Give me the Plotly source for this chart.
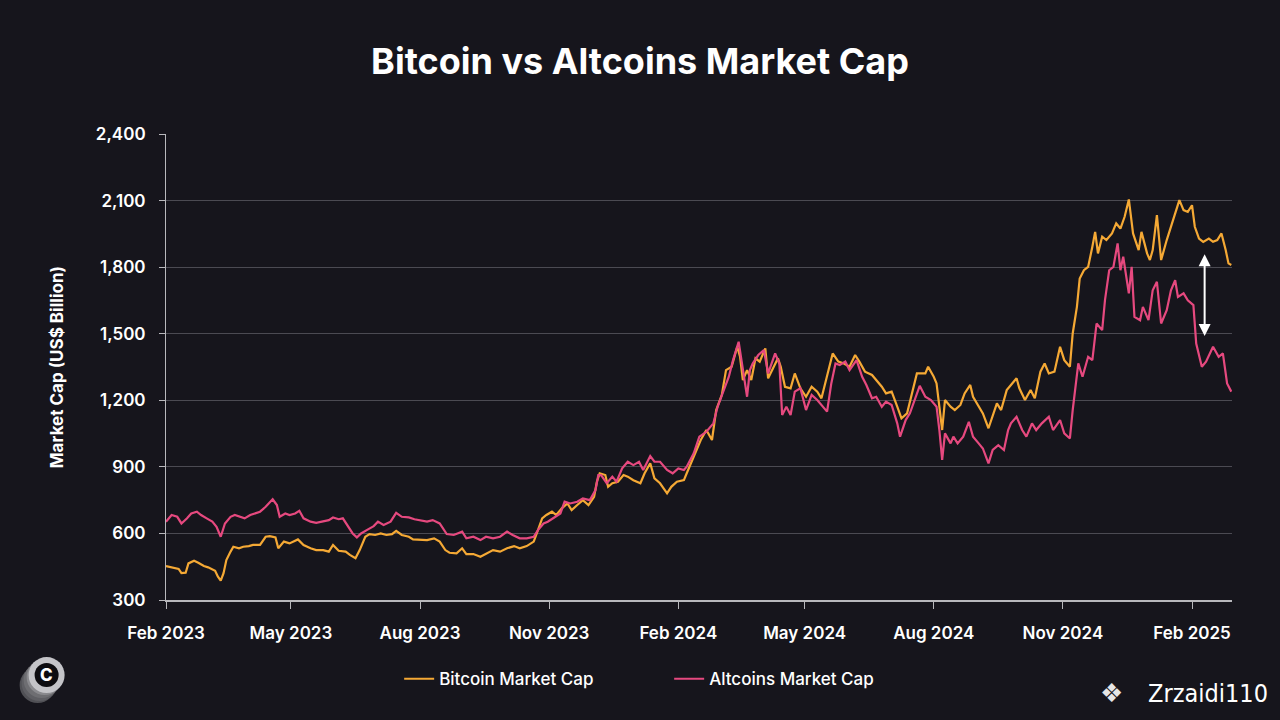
import pandas as pd
import plotly.graph_objs as go

# days counted from 1 Feb 2023, values in US$ billion
btc_day = [0, 5, 9, 11, 14, 16, 20, 23, 27, 30, 33, 35, 37, 39, 41, 43, 46, 48, 52, 55,
           59, 62, 67, 71, 74, 78, 80, 84, 88, 91, 94, 98, 103, 107, 112, 116, 119, 123, 128, 131,
           135, 138, 142, 145, 149, 153, 157, 161, 164, 168, 173, 176,
           186, 191, 195, 199, 202, 207, 211, 214, 219, 224, 229, 233, 238, 243, 248, 252, 257, 262,
           265, 268, 271, 275, 278, 282, 286, 289, 293, 297, 301, 305, 307, 309, 313, 315, 318, 322,
           326, 329, 333, 338, 341, 345, 348, 352, 357, 360, 364, 369,
           371, 376, 381, 385, 389, 392, 396, 399, 403, 407, 409, 411, 414, 417, 420, 423, 427, 429,
           433, 436, 438, 441, 445, 448, 452, 456, 460, 464, 467, 471, 475, 479, 483, 487, 491, 494,
           498, 503, 506, 510, 513, 517, 521, 524, 528, 531, 535,
           541, 543, 547, 549, 551, 553, 555, 559, 562, 566, 569, 573, 575, 579, 582, 586, 588, 592,
           595, 599, 602, 606, 608, 612, 616, 619, 623, 626, 629, 633, 637, 640, 644, 646, 649, 651,
           654, 657, 660, 662, 664, 667, 670, 674, 677, 680, 683, 686, 689, 693, 695, 699, 701, 703,
           706, 709, 713, 717, 719, 722, 725, 728, 731, 733, 736, 739, 743, 746, 749, 752, 755, 757, 759]
btc_cap = [453, 447, 440, 421, 423, 465, 477, 468, 453, 447, 438, 432, 405, 387, 421, 480, 518, 540, 533, 540,
           543, 548, 548, 585, 588, 582, 533, 563, 555, 563, 573, 548, 533, 525, 525, 518, 548, 522, 518, 503,
           488, 525, 585, 597, 593, 600, 593, 597, 612, 593, 585, 573,
           570, 578, 563, 525, 513, 510, 533, 507, 507, 495, 513, 525, 518, 533, 543, 533, 543, 563,
           615, 668, 683, 698, 683, 713, 735, 705, 728, 750, 728, 765, 833, 871, 863, 810, 826, 833,
           863, 856, 840, 826, 871, 916, 848, 826, 781, 810, 833, 840,
           871, 946, 1021, 1066, 1021, 1156, 1224, 1336, 1351, 1441, 1396, 1291, 1336, 1291, 1389, 1374, 1434, 1299,
           1351, 1389, 1351, 1261, 1254, 1321, 1254, 1216, 1261, 1239, 1209, 1306, 1411, 1374, 1366, 1351, 1404, 1374,
           1329, 1314, 1291, 1261, 1231, 1239, 1171, 1119, 1141, 1224, 1321,
           1321, 1351, 1306, 1276, 1171, 1066, 1201, 1171, 1156, 1179, 1231, 1269, 1216, 1171, 1141, 1074, 1111, 1186,
           1156, 1246, 1269, 1299, 1254, 1201, 1246, 1209, 1329, 1366, 1321, 1329, 1441, 1381, 1351, 1501, 1621, 1749,
           1786, 1801, 1892, 1959, 1862, 1937, 1922, 1952, 1997, 1974, 2027, 2105, 1952, 1877, 1959, 1862, 1832, 1877,
           2034, 1832, 1922, 2004, 2041, 2102, 2057, 2049, 2079, 1982, 1929, 1914, 1929, 1914, 1922, 1952, 1877, 1817, 1810]

alt_day = [0, 4, 8, 11, 15, 18, 22, 25, 29, 33, 36, 39, 42, 46, 49, 53, 56, 60, 63, 67,
           71, 74, 76, 79, 81, 85, 88, 92, 95, 98, 103, 107, 112, 116, 119, 123, 126, 130, 133, 136,
           139, 143, 148, 151, 155, 160, 164, 168, 173, 177,
           186, 190, 195, 200, 205, 211, 214, 219, 224, 228, 233, 238, 243, 247, 252, 257, 262, 265,
           269, 272, 276, 281, 284, 288, 293, 297, 302, 306, 308, 310, 314, 318, 321, 325, 329, 333,
           337, 340, 345, 348, 352, 357, 361, 365, 369,
           371, 376, 380, 385, 390, 393, 397, 401, 404, 408, 410, 414, 416, 418, 422, 426, 429, 434,
           437, 439, 442, 445, 448, 452, 456, 460, 464, 467, 471, 474, 477, 480, 484, 487, 492, 496,
           499, 503, 506, 510, 513, 517, 521, 523, 527, 530, 534, 537,
           541, 545, 549, 551, 553, 555, 559, 561, 564, 568, 572, 575, 579, 582, 586, 589, 593, 597,
           600, 602, 606, 610, 613, 617, 620, 624, 629, 632, 637, 640, 644, 646, 650, 653, 657, 660,
           663, 667, 669, 672, 675, 678, 680, 682, 686, 688, 690, 694, 696, 700, 703, 706, 709, 713,
           716, 719, 721, 725, 728, 732, 734, 738, 741, 746, 750, 753, 756, 759]
alt_cap = [653, 683, 675, 645, 668, 690, 698, 683, 668, 653, 630, 585, 645, 675, 683, 675, 668, 683, 690, 698,
           720, 743, 754, 728, 675, 690, 683, 690, 702, 668, 653, 648, 653, 660, 672, 664, 668, 630, 600, 582,
           600, 615, 633, 653, 638, 653, 693, 675, 672, 664,
           653, 660, 645, 597, 593, 608, 578, 585, 570, 585, 578, 585, 608, 593, 578, 578, 585, 615,
           645, 653, 668, 690, 743, 735, 743, 758, 750, 795, 863, 863, 826, 856, 833, 893, 923, 908,
           923, 886, 949, 923, 923, 886, 871, 893, 886,
           901, 961, 1036, 1058, 1096, 1171, 1239, 1306, 1381, 1464, 1381, 1216, 1336, 1366, 1404, 1426, 1321, 1411,
           1366, 1134, 1171, 1134, 1239, 1254, 1156, 1224, 1201, 1179, 1149, 1276, 1366, 1359, 1374, 1336, 1381, 1306,
           1269, 1209, 1216, 1171, 1194, 1179, 1096, 1036, 1111, 1141, 1209, 1265,
           1216, 1201, 1171, 1066, 931, 1051, 1006, 1036, 1006, 1036, 1103, 1036, 1006, 983, 916, 976, 998, 976,
           1066, 1096, 1126, 1066, 1036, 1096, 1066, 1096, 1126, 1066, 1111, 1051, 1028, 1156, 1366, 1306, 1396, 1381,
           1546, 1516, 1651, 1786, 1801, 1907, 1786, 1847, 1682, 1801, 1576, 1561, 1621, 1561, 1696, 1734, 1546, 1606,
           1696, 1741, 1666, 1682, 1651, 1629, 1456, 1351, 1374, 1441, 1396, 1411, 1276, 1239]

y_ticks = [300, 600, 900, 1200, 1500, 1800, 2100, 2400]
x_ticks = ["2023-02-01", "2023-05-01", "2023-08-01", "2023-11-01", "2024-02-01",
           "2024-05-01", "2024-08-01", "2024-11-01", "2025-02-01"]

# the white gap arrow near Feb 2025
gap_date = "2025-02-10"
gap_low, gap_high = 1490, 1865

start = pd.Timestamp("2023-02-01")
btc_dates = start + pd.to_timedelta(btc_day, unit="D")
alt_dates = start + pd.to_timedelta(alt_day, unit="D")

BG = "#16151c"
FONT = "Inter"

fig = go.Figure()

fig.add_trace(go.Scatter(
    x=btc_dates, y=btc_cap,
    mode="lines",
    name="Bitcoin Market Cap",
    line=dict(color="#F5A935", width=2.2),
))

fig.add_trace(go.Scatter(
    x=alt_dates, y=alt_cap,
    mode="lines",
    name="Altcoins Market Cap",
    line=dict(color="#E6497F", width=2.2),
))

fig.add_annotation(
    x=gap_date, y=gap_low, ax=gap_date, ay=gap_high,
    xref="x", yref="y", axref="x", ayref="y",
    text="", showarrow=True,
    arrowhead=2, startarrowhead=2, arrowside="end+start",
    arrowsize=1.2, arrowwidth=2, arrowcolor="white",
)

# y axis title
fig.add_annotation(
    x=-0.102, y=0.5, xref="paper", yref="paper",
    xanchor="center", yanchor="middle",
    text="Market Cap (US$ Billion)", textangle=-90, showarrow=False,
    font=dict(family=FONT, size=17, color="white", weight=700),
)

# coin logo bottom left (pixel sized circles anchored below the plot)
logo_x, logo_y = -0.112, -0.161
for dx, dy, r, col in [(-9, -10, 18, "#505055"), (-7, -8, 18, "#5e5e63"),
                       (-5, -5, 18, "#6e6e72"), (-2, -2, 18, "#8a8a8e"),
                       (0, 0, 18, "#c4c4c8"), (0, 0, 12, "#0d0c10")]:
    fig.add_shape(type="circle", xref="paper", yref="paper",
                  xsizemode="pixel", ysizemode="pixel",
                  xanchor=logo_x, yanchor=logo_y,
                  x0=dx - r, x1=dx + r, y0=dy - r, y1=dy + r,
                  fillcolor=col, line=dict(width=0))
fig.add_annotation(
    x=logo_x, y=logo_y, xref="paper", yref="paper",
    text="C", showarrow=False, xanchor="center", yanchor="middle",
    font=dict(family=FONT, size=17, color="white", weight=800),
)

# watermark bottom right
fig.add_annotation(
    x=1.0, y=-0.2, xref="paper", yref="paper",
    xanchor="right", yanchor="middle", xshift=38,
    text="Zrzaidi110", showarrow=False,
    font=dict(family="DejaVu Sans Condensed", size=25, color="white"),
)
fig.add_annotation(
    x=1.0, y=-0.2, xref="paper", yref="paper",
    xanchor="center", yanchor="middle", xshift=-121,
    text="❖", showarrow=False,
    font=dict(family="DejaVu Sans", size=26, color="#e6e6e6"),
)

fig.update_layout(
    width=1280, height=720,
    paper_bgcolor=BG, plot_bgcolor=BG,
    margin=dict(l=166, r=48, t=134, b=120),
    title=dict(
        text="Bitcoin vs Altcoins Market Cap",
        x=0.5, xanchor="center", y=0.915, yanchor="middle",
        font=dict(family=FONT, size=36, color="white", weight=700),
    ),
    font=dict(family=FONT, color="white"),
    showlegend=True,
    legend=dict(
        orientation="h", x=0.472, xanchor="center", y=-0.17, yanchor="middle",
        font=dict(family=FONT, size=17, color="white", weight=500),
        bgcolor="rgba(0,0,0,0)",
        entrywidth=225, entrywidthmode="pixels",
    ),
)

fig.update_xaxes(
    range=["2023-02-01", "2025-03-01 12:00"],
    tickvals=x_ticks, tickformat="%b %Y",
    showgrid=False,
    showline=True, linecolor="#b8b8bc", linewidth=2,
    ticks="outside", ticklen=7, tickcolor="#b8b8bc", tickwidth=1,
    tickfont=dict(family=FONT, size=17, color="white", weight=600),
    ticklabelstandoff=10,
    zeroline=False,
)

fig.update_yaxes(
    range=[300, 2400],
    tickvals=y_ticks, tickformat=",",
    showgrid=True, gridcolor="#4b4a52", gridwidth=1,
    showline=True, linecolor="#b8b8bc", linewidth=1,
    ticks="outside", ticklen=6, tickcolor="#b8b8bc", tickwidth=1,
    tickfont=dict(family=FONT, size=17, color="white", weight=600),
    ticklabelstandoff=10,
    zeroline=False,
)

# page body has a default 8px margin; drop it so the figure fills the window
fig.write_html(
    "out.html",
    config={"displayModeBar": False},
    post_script="document.body.style.margin='0';document.body.style.background='%s';" % BG,
)
